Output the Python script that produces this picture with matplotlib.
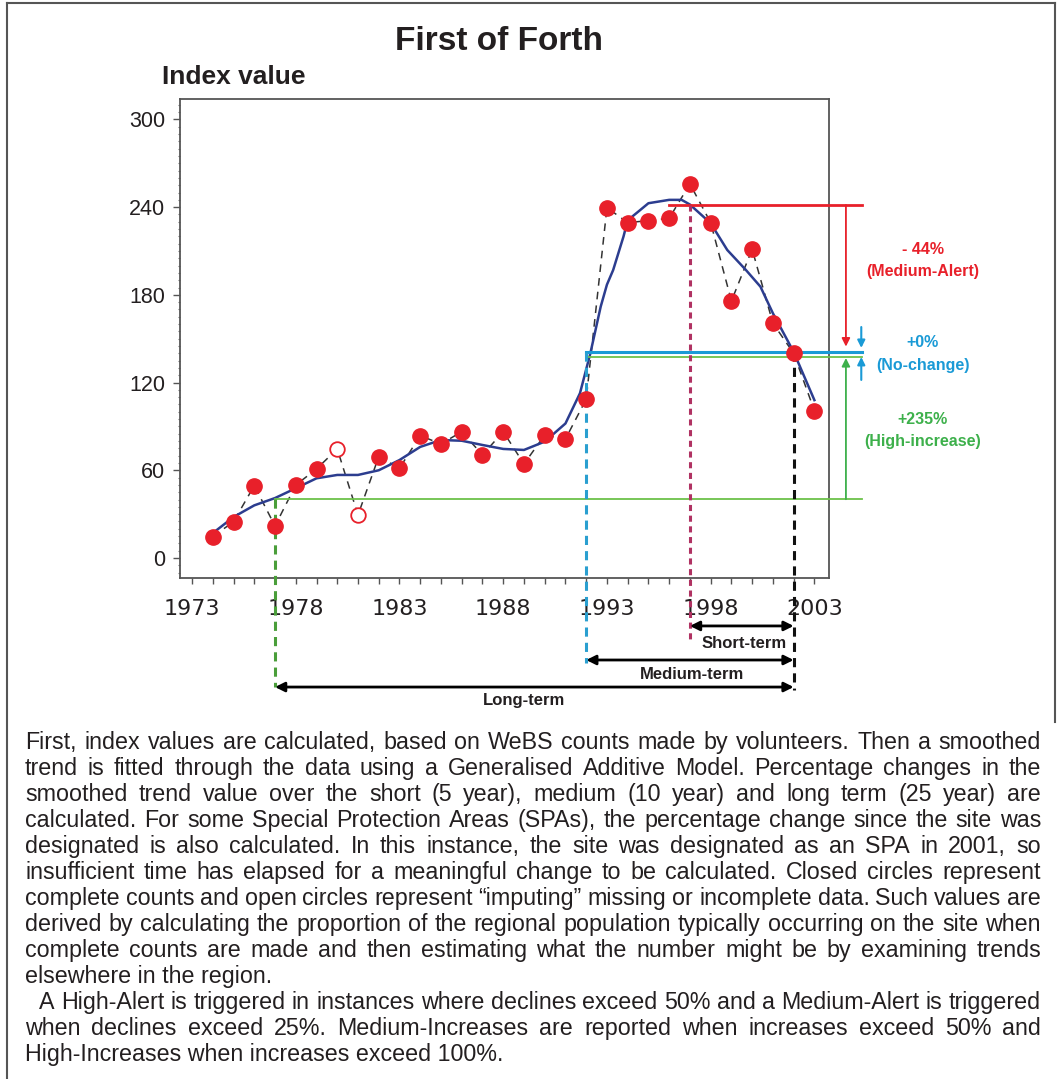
import numpy as np
import matplotlib
matplotlib.use("Agg")
from matplotlib import pyplot as plt
from matplotlib.ticker import MultipleLocator
from matplotlib.lines import Line2D

plt.rcParams['font.family'] = ['Liberation Sans', 'DejaVu Sans']

# index values (closed = complete counts, open = imputed)
years = np.arange(1974, 2004)
index_vals = [14.6, 24.8, 49.5, 21.9, 49.9, 60.9, 74.6, 29.4, 69.3, 61.4,
              83.7, 78.0, 86.4, 70.5, 86.4, 64.3, 84.1, 81.4, 108.6, 239.7,
              229.4, 230.8, 232.4, 255.9, 229.4, 175.8, 211.2, 160.6, 140.0, 100.8]
imputed_years = [1980, 1981]

# smoothed trend (GAM)
trend_x = [1974, 1975, 1976, 1977, 1978, 1979, 1980, 1981, 1982, 1983, 1984, 1985,
           1986, 1987, 1988, 1989, 1990, 1991, 1991.7, 1992.2, 1992.7, 1993, 1993.3,
           1993.8, 1994, 1994.6, 1995, 1996, 1996.6, 1997, 1998, 1998.8, 1999.7,
           2000.4, 2001, 2002, 2003]
trend_y = [17, 28, 36, 41, 47.7, 54.5, 56.8, 56.8, 60, 67, 76, 80.7,
           80.2, 77.3, 74.6, 73.9, 79.6, 92, 112.7, 140, 172, 187, 197,
           220, 231, 238, 242.7, 245, 245, 241.8, 229, 210.7, 197,
           185.6, 167.4, 141, 108]

# periods and reference levels
long_start, medium_start, short_start, end_year = 1977, 1992, 1997, 2002
level_short = 241.5
level_medium = 141.0
level_end = 137.7
level_long = 40.2
changes = ['- 44%', '+0%', '+235%']
change_names = ['(Medium-Alert)', '(No-change)', '(High-increase)']

RED = '#e8202a'
BLUE = '#1a9ad6'
GREEN = '#3db04b'
MAROON = '#b03262'
INK = '#231f20'

W, H = 1060, 1079
fig = plt.figure(figsize=(W / 100, H / 100), dpi=100)
ax = fig.add_axes([180 / W, 1 - 578 / H, 648.5 / W, 479 / H])
ax.set_xlim(1972.42, 2003.68)
ax.set_ylim(-13.7, 314.0)

# data and trend
ax.plot(years, index_vals, ls=(0, (5, 4)), color='#333333', lw=1.1, zorder=2)
ax.plot(trend_x, trend_y, color='#2c3d8f', lw=1.8, zorder=3)
closed = [y not in imputed_years for y in years]
yrs_c = [y for y, c in zip(years, closed) if c]
val_c = [v for v, c in zip(index_vals, closed) if c]
yrs_o = [y for y, c in zip(years, closed) if not c]
val_o = [v for v, c in zip(index_vals, closed) if not c]
ax.plot(yrs_c, val_c, 'o', ms=11, color=RED, mec=RED, zorder=4)
ax.plot(yrs_o, val_o, 'o', ms=10.5, mfc='white', mec=RED, mew=1.3, zorder=4)

# horizontal reference levels
x_end = 2005.3
ax.plot([1996, x_end], [level_short, level_short], color=RED, lw=2, clip_on=False, zorder=3)
ax.plot([medium_start, x_end], [level_medium, level_medium], color=BLUE, lw=2.2, clip_on=False, zorder=3)
ax.plot([medium_start, x_end], [level_end, level_end], color='#6cc24a', lw=1.3, clip_on=False, zorder=3)
ax.plot([long_start, x_end], [level_long, level_long], color='#6cc24a', lw=1.3, clip_on=False, zorder=3)

# vertical dashed markers for each period
ax.plot([long_start, long_start], [level_long, -88], ls=(0, (3, 2)), color='#4a9e3a', lw=2.2, clip_on=False, zorder=3)
ax.plot([medium_start, medium_start], [level_medium, -72], ls=(0, (3, 2)), color='#2a9fd0', lw=2.2, clip_on=False, zorder=3)
ax.plot([short_start, short_start], [level_short, -56], ls=(0, (2, 1.5)), color=MAROON, lw=2.2, clip_on=False, zorder=3)
ax.plot([end_year, end_year], [level_medium, -90], ls=(0, (3, 2)), color='#111111', lw=2.2, clip_on=False, zorder=3)

# period arrows under the axis
arr = dict(arrowstyle='<|-|>', color='black', lw=2, shrinkA=0, shrinkB=0, mutation_scale=14)
for start, yy, ty, name, tx in [(short_start, -46.5, -58.2, 'Short-term', 1999.6),
                                (medium_start, -69.8, -80, 'Medium-term', 1997.1),
                                (long_start, -88.3, -97.8, 'Long-term', 1989.0)]:
    ax.annotate('', xy=(end_year, yy), xytext=(start, yy), arrowprops=arr,
                annotation_clip=False)
    ax.text(tx, ty, name, ha='center', va='center', fontsize=12, weight='bold',
            color=INK, clip_on=False)

# change arrows on the right
xa = 2004.52
ax.annotate('', xy=(xa, 144.6), xytext=(xa, level_short),
            arrowprops=dict(arrowstyle='-|>', color=RED, lw=1.3, shrinkA=0, shrinkB=0,
                            mutation_scale=12), annotation_clip=False)
ax.annotate('', xy=(xa, 136.8), xytext=(xa, level_long),
            arrowprops=dict(arrowstyle='-|>', color=GREEN, lw=1.3, shrinkA=0, shrinkB=0,
                            mutation_scale=12), annotation_clip=False)
xb = 2005.26
ax.annotate('', xy=(xb, 143.7), xytext=(xb, 158),
            arrowprops=dict(arrowstyle='-|>', color=BLUE, lw=1.5, shrinkA=0, shrinkB=0,
                            mutation_scale=11), annotation_clip=False)
ax.annotate('', xy=(xb, 137.5), xytext=(xb, 121.8),
            arrowprops=dict(arrowstyle='-|>', color=BLUE, lw=1.5, shrinkA=0, shrinkB=0,
                            mutation_scale=11), annotation_clip=False)

xt = 2008.23
for (pct, nm, y1, y2, col) in [(changes[0], change_names[0], 210.7, 195.9, RED),
                               (changes[1], change_names[1], 147.3, 131.4, BLUE),
                               (changes[2], change_names[2], 94.4, 79.4, GREEN)]:
    ax.text(xt, y1, pct, ha='center', va='center', color=col, fontsize=11.5, weight='bold')
    ax.text(xt, y2, nm, ha='center', va='center', color=col, fontsize=11.5, weight='bold')

# axes styling
for s in ax.spines.values():
    s.set_color('#555555')
    s.set_linewidth(1.3)
ax.set_xticks(range(1973, 2004, 5))
ax.xaxis.set_minor_locator(MultipleLocator(1))
ax.set_yticks(range(0, 301, 60))
ax.yaxis.set_minor_locator(MultipleLocator(5))
ax.tick_params(axis='x', which='major', length=4, width=1, pad=11, labelsize=16,
               color='#555555', labelcolor=INK)
ax.tick_params(axis='x', which='minor', length=4, width=1, color='#555555')
ax.tick_params(axis='y', which='major', length=5, width=1, pad=5.5, labelsize=15.5,
               color='#555555', labelcolor=INK)
ax.tick_params(axis='y', which='minor', length=1.5, width=0.8, color='#777777')
for lab in ax.get_xticklabels():
    lab.set_family('DejaVu Sans')

fig.text(499 / W, 1 - 42 / H, 'First of Forth', ha='center', va='center',
         fontsize=24, weight='bold', color=INK)
fig.text(162 / W, 1 - 77 / H, 'Index value', ha='left', va='center',
         fontsize=19, weight='bold', color=INK)

# outer frame
frame_kw = dict(color='#555555', lw=1.5, transform=fig.transFigure)
fig.add_artist(Line2D([7 / W, 7 / W], [0, 1 - 3 / H], **frame_kw))
fig.add_artist(Line2D([7 / W, 1055 / W], [1 - 3 / H, 1 - 3 / H], **frame_kw))
fig.add_artist(Line2D([1055 / W, 1055 / W], [1 - 3 / H, 1 - 722 / H], **frame_kw))

# caption text, justified
caption = [
    ("First, index values are calculated, based on WeBS counts made by volunteers. Then a smoothed", True, 0),
    ("trend is fitted through the data using a Generalised Additive Model. Percentage changes in the", True, 0),
    ("smoothed trend value over the short (5 year), medium (10 year) and long term (25 year) are", True, 0),
    ("calculated. For some Special Protection Areas (SPAs), the percentage change since the site was", True, 0),
    ("designated is also calculated. In this instance, the site was designated as an SPA in 2001, so", True, 0),
    ("insufficient time has elapsed for a meaningful change to be calculated. Closed circles represent", True, 0),
    ("complete counts and open circles represent \u201cimputing\u201d missing or incomplete data. Such values are", True, 0),
    ("derived by calculating the proportion of the regional population typically occurring on the site when", True, 0),
    ("complete counts are made and then estimating what the number might be by examining trends", True, 0),
    ("elsewhere in the region.", False, 0),
    ("A High-Alert is triggered in instances where declines exceed 50% and a Medium-Alert is triggered", True, 14),
    ("when declines exceed 25%. Medium-Increases are reported when increases exceed 50% and", True, 0),
    ("High-Increases when increases exceed 100%.", False, 0),
]

fig.canvas.draw()
rend = fig.canvas.get_renderer()


def text_width(s, size):
    t = fig.text(0, 0, s, fontsize=size)
    w = t.get_window_extent(rend).width
    t.remove()
    return w


left, right = 25, 1041
size = 17.5
while True:
    space = text_width('a a', size) - text_width('aa', size)
    gaps = []
    for s, j, ind in caption:
        if j:
            ws = [text_width(w, size) for w in s.split()]
            gaps.append((right - left - ind - sum(ws)) / (len(ws) - 1))
    if min(gaps) >= 0.85 * space or size < 11:
        break
    size -= 0.25

y0, dy = 749, 26
for i, (line, just, ind) in enumerate(caption):
    yy = 1 - (y0 + i * dy) / H
    x0 = left + ind
    if not just:
        fig.text(x0 / W, yy, line, ha='left', va='baseline', fontsize=size, color=INK)
        continue
    words = line.split()
    ws = [text_width(w, size) for w in words]
    gap = (right - x0 - sum(ws)) / (len(words) - 1)
    x = x0
    for w, wd in zip(words, ws):
        fig.text(x / W, yy, w, ha='left', va='baseline', fontsize=size, color=INK)
        x += wd + gap

fig.savefig('out.png', dpi=100)
